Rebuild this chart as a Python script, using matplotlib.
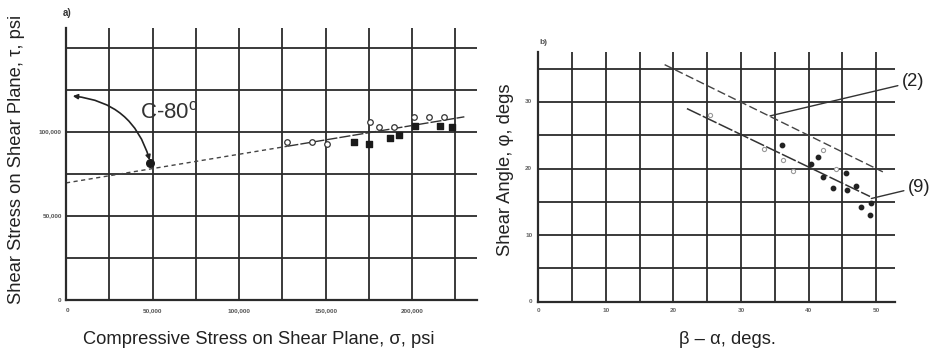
import matplotlib
matplotlib.use("Agg")
import matplotlib.pyplot as plt
import numpy as np

plt.rcParams['font.family'] = ['Liberation Sans', 'DejaVu Sans']
plt.rcParams['mathtext.fontset'] = 'custom'
plt.rcParams['mathtext.rm'] = 'Liberation Sans'

# ---------------- panel a) data ----------------
sigma_ticks = [0, 50000, 100000, 150000, 200000]
sigma_tick_labels = ["0", "50,000", "100,000", "150,000", "200,000"]
tau_ticks = [0, 50000, 100000]
tau_tick_labels = ["0", "50,000", "100,000"]

open_sigma = [127900, 141900, 150600, 175600, 180800, 189500, 201200, 209900, 218600]
open_tau = [94000, 94000, 92900, 105900, 103000, 103000, 108900, 108900, 108900]
filled_sigma = [166300, 175000, 187200, 192400, 201700, 216300, 223300]
filled_tau = [94000, 92900, 96400, 98200, 103600, 103600, 103000]
c80_sigma = [48800]
c80_tau = [81500]
dash_sigma = [0, 127900]
dash_tau = [69600, 91400]
solid_sigma = [127900, 230200]
solid_tau = [91400, 108900]
arrow_start = (2300, 121400)

# ---------------- panel b) data ----------------
ba_ticks = [0, 10, 20, 30, 40, 50]
ba_tick_labels = ["0", "10", "20", "30", "40", "50"]
phi_ticks = [0, 10, 20, 30]
phi_tick_labels = ["0", "10", "20", "30"]

line2_x = [18.7, 51.0]
line2_y = [35.6, 19.5]
line9_x = [22.0, 49.1]
line9_y = [29.0, 15.8]
pts_x = [36.1, 41.4, 40.4, 45.6, 42.2, 43.6, 45.7, 47.1, 47.7, 49.2, 49.1]
pts_y = [23.6, 21.7, 20.7, 19.3, 18.7, 17.1, 16.8, 17.4, 14.2, 14.8, 13.0]
faint_x = [25.4, 33.4, 36.2, 37.7, 42.1, 44.1]
faint_y = [28.0, 22.9, 21.3, 19.7, 22.8, 19.9]

W, H = 933, 354
fig = plt.figure(figsize=(W / 100, H / 100), dpi=100)

def fx(px):
    return px / W

def fy(py):
    return 1 - py / H

grid_col = '#2b2b2b'
label_fs = 13.2

# ---------------- left axes ----------------
axL = fig.add_axes([fx(66), fy(300), fx(477) - fx(66), fy(28) - fy(300)])
axL.set_xlim(0, 237500)
axL.set_ylim(0, 161700)
axL.set_xticks(np.arange(0, 230001, 25000))
axL.set_yticks(np.arange(0, 150001, 25000))
axL.tick_params(length=0, labelbottom=False, labelleft=False)
axL.grid(True, color=grid_col, linewidth=1.3)
axL.set_axisbelow(True)
for s in ['top', 'right']:
    axL.spines[s].set_visible(False)
for s in ['left', 'bottom']:
    axL.spines[s].set_color(grid_col)
    axL.spines[s].set_linewidth(1.6)

for v, lab in zip(sigma_ticks, sigma_tick_labels):
    axL.text(v, -5000, lab, ha='left' if v == 0 else 'center', va='top',
             fontsize=4.6, fontweight='bold', color='#555555')
for v, lab in zip(tau_ticks, tau_tick_labels):
    axL.text(-2500, v, lab, ha='right', va='center',
             fontsize=4.6, fontweight='bold', color='#555555')

axL.plot(dash_sigma, dash_tau, color='#444444', lw=1.0, ls=(0, (3, 2.5)))
axL.plot(solid_sigma, solid_tau, color='#333333', lw=1.0, ls=(0, (8, 1.5)))
axL.scatter(open_sigma, open_tau, s=16, facecolor='white', edgecolor='#333333',
            linewidth=0.9, zorder=4)
axL.scatter(filled_sigma, filled_tau, s=16, marker='s', color='#1a1a1a', zorder=4)
axL.scatter(c80_sigma, c80_tau, s=30, color='#1a1a1a', zorder=5)
axL.annotate('', xy=(c80_sigma[0], c80_tau[0]), xytext=arrow_start,
             arrowprops=dict(arrowstyle='<|-|>', color='#222222', lw=1.2,
                             mutation_scale=7,
                             connectionstyle='arc3,rad=-0.35'))
axL.text(42500, 111300, r'C-80$^{\mathrm{o}}$', fontsize=16, color='#333333',
         ha='left', va='center')
fig.text(fx(63), fy(13), 'a)', fontsize=7, fontweight='bold', color='#333333',
         ha='left', va='center')

# ---------------- right axes ----------------
axR = fig.add_axes([fx(538.3), fy(301.7), fx(895) - fx(538.3), fy(52) - fy(301.7)])
axR.set_xlim(0, 52.8)
axR.set_ylim(0, 37.5)
axR.set_xticks(np.arange(0, 51, 5))
axR.set_yticks(np.arange(0, 36, 5))
axR.tick_params(length=0, labelbottom=False, labelleft=False)
axR.grid(True, color=grid_col, linewidth=1.3)
axR.set_axisbelow(True)
for s in ['top', 'right']:
    axR.spines[s].set_visible(False)
for s in ['left', 'bottom']:
    axR.spines[s].set_color(grid_col)
    axR.spines[s].set_linewidth(1.6)

for v, lab in zip(ba_ticks, ba_tick_labels):
    axR.text(v, -0.9, lab, ha='center', va='top',
             fontsize=4.6, fontweight='bold', color='#666666')
for v, lab in zip(phi_ticks, phi_tick_labels):
    axR.text(-0.9, v, lab, ha='right', va='center',
             fontsize=4.6, fontweight='bold', color='#666666')

axR.plot(line2_x, line2_y, color='#444444', lw=1.0, ls=(0, (6, 2.5)))
axR.plot(line9_x, line9_y, color='#333333', lw=1.1, ls=(0, (10, 1.5)))
axR.scatter(pts_x, pts_y, s=10, color='#222222', zorder=4)
axR.scatter(faint_x, faint_y, s=9, facecolor='white', edgecolor='#999999',
            linewidth=0.8, zorder=4)

axR.annotate('(2)', xy=(34.3, 27.9), xytext=(902, H - 82), textcoords='figure pixels',
             fontsize=label_fs, color='#222222', ha='left', va='center',
             arrowprops=dict(arrowstyle='-', color='#333333', lw=1.0,
                             shrinkA=1, shrinkB=0))
axR.annotate('(9)', xy=(49.3, 15.5), xytext=(908, H - 187), textcoords='figure pixels',
             fontsize=label_fs, color='#222222', ha='left', va='center',
             arrowprops=dict(arrowstyle='-', color='#333333', lw=1.0,
                             shrinkA=1, shrinkB=0))
fig.text(fx(539), fy(42), 'b)', fontsize=6, fontweight='bold', color='#555555',
         ha='left', va='center')

# ---------------- axis titles ----------------
fig.text(fx(17), fy(159), 'Shear Stress on Shear Plane, \u03c4, psi', rotation=90,
         fontsize=label_fs, ha='center', va='center', color='#222222')
fig.text(fx(259), fy(339), 'Compressive Stress on Shear Plane, \u03c3, psi',
         fontsize=label_fs, ha='center', va='center', color='#222222')
fig.text(fx(506), fy(170), 'Shear Angle, \u03c6, degs', rotation=90,
         fontsize=label_fs, ha='center', va='center', color='#222222')
fig.text(fx(727), fy(340), '\u03b2 \u2013 \u03b1, degs.',
         fontsize=label_fs, ha='center', va='center', color='#222222')

fig.savefig('out.png', dpi=100, facecolor='white')
